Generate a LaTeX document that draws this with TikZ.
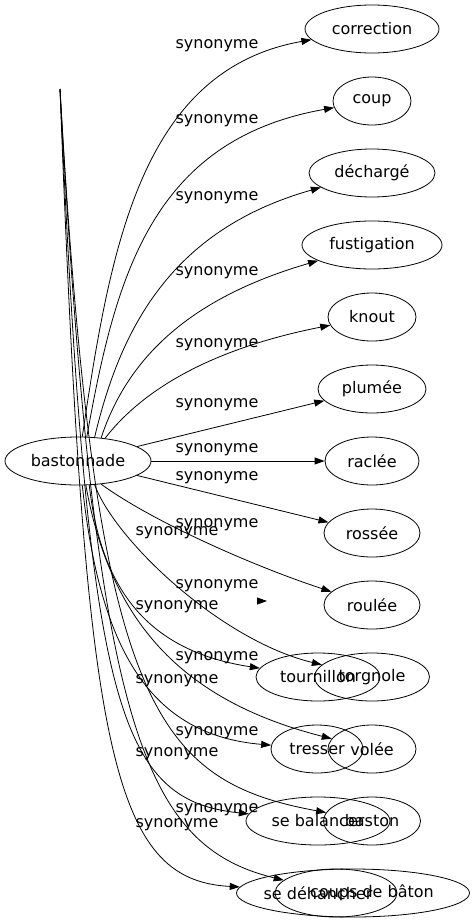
\documentclass[tikz,border=0pt]{standalone}
\usepackage{fontspec}
\setmainfont{DejaVu Sans}
\usetikzlibrary{shapes.geometric, arrows.meta}

\begin{document}
\begin{tikzpicture}[x=1bp,y=-1bp,
        every node/.style={font=\fontsize{16bp}{19bp}\selectfont},
        syn/.style={draw,ellipse,inner sep=0pt,minimum height=48bp,line width=0.8bp},
        lbl/.style={inner sep=0pt},
        synarrow/.style={-{Triangle[length=10bp,width=7bp]},line width=0.8bp}]
        \useasboundingbox (0,0) rectangle (475,923);
        % mots
        \node[syn,minimum width=146bp] (bast) at (78,461) {bastonnade};
        \node[syn,minimum width=134bp] (correction) at (372,29) {correction};
        \node[syn,minimum width=78bp] (coup) at (372,101) {coup};
        \node[syn,minimum width=126bp] (dech) at (372,173) {déchargé};
        \node[syn,minimum width=140bp] (fust) at (372,245) {fustigation};
        \node[syn,minimum width=88bp] (knout) at (372,317) {knout};
        \node[syn,minimum width=108bp] (plumee) at (372,389) {plumée};
        \node[syn,minimum width=94bp] (raclee) at (372,461) {raclée};
        \node[syn,minimum width=96bp] (rossee) at (372,533) {rossée};
        \node[syn,minimum width=96bp] (roulee) at (372,605) {roulée};
        \node[syn,minimum width=124bp] (tourn) at (318,677) {tournillon};
        \node[syn,minimum width=115bp] (torgn) at (372,677) {torgnole};
        \node[syn,minimum width=92bp] (tresser) at (317,749) {tresser};
        \node[syn,minimum width=88bp] (volee) at (372,749) {volée};
        \node[syn,minimum width=144bp] (sebal) at (318,821) {se balancer};
        \node[syn,minimum width=97bp] (baston) at (372,821) {baston};
        \node[syn,minimum width=122bp] (sedeh) at (336,893) {};
        \node[syn,minimum width=233bp] (coups) at (353,893) {};
        \node[lbl] (sedehtxt) at (318,893) {se déhancher};
        \node[lbl] (coupstxt) at (372,893) {coups de bâton};
        \coordinate (top) at (60,89);
        \coordinate (stray1) at (257,601);
        \coordinate (stray2) at (267,601);
        % liens
        \draw[synarrow] (bast.80) .. controls (110,250) and (140,70) .. (correction);
        \draw[synarrow] (bast.70) .. controls (115,280) and (150,140) .. (coup);
        \draw[synarrow] (bast.55) .. controls (120,330) and (170,230) .. (dech);
        \draw[synarrow] (bast.45) .. controls (130,350) and (200,295) .. (fust);
        \draw[synarrow] (bast.40) .. controls (150,380) and (230,345) .. (knout);
        \draw[synarrow] (bast) -- (plumee);
        \draw[synarrow] (bast) -- (raclee);
        \draw[synarrow] (bast) -- (rossee);
        \draw[synarrow] (bast.-45) .. controls (150,520) and (250,565) .. (roulee);
        \draw[synarrow] (stray1) -- (stray2);
        \draw[synarrow] (bast.-65) .. controls (100,580) and (140,650) .. (tourn);
        \draw[synarrow] (bast.-55) .. controls (115,540) and (220,640) .. (torgn);
        \draw[synarrow] (bast.-80) .. controls (100,650) and (150,735) .. (tresser);
        \draw[synarrow] (bast.-72) .. controls (110,620) and (180,700) .. (volee);
        \draw[synarrow] (top) .. controls (88,700) and (115,800) .. (sebal);
        \draw[synarrow] (top) .. controls (95,700) and (150,780) .. (baston);
        \draw[synarrow] (top) .. controls (95,720) and (140,845) .. (sedeh);
        \draw[synarrow] (top) .. controls (85,750) and (110,880) .. (coups);
        % etiquettes
        \foreach \y [count=\i] in {46,121,198,273,345,405,450,478,525,586,658,733,810}
            \node[lbl] (rl\i) at (217,\y) {synonyme};
        \foreach \y [count=\i] in {533,607,681,754,825}
            \node[lbl] (ll\i) at (177,\y) {synonyme};
\end{tikzpicture}
\end{document}
